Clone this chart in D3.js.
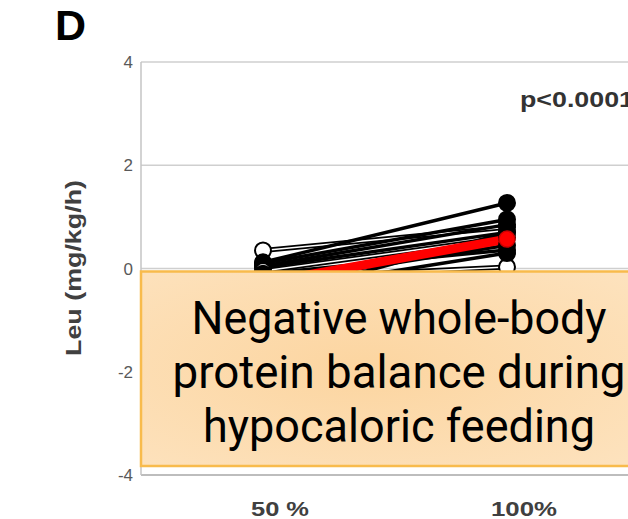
<!DOCTYPE html>
<html>
<head>
<meta charset="utf-8">
<script src="https://cdn.jsdelivr.net/npm/d3@7"></script>
<style>
  body{margin:0;background:#fff;}
  svg{display:block;}
</style>
</head>
<body>
<svg id="chart" width="628" height="519"></svg>
<script>
// categories and tick labels
var categories=['50 %','100%'];
var yTicks=[-4,-2,0,2,4];

// individual subjects, leucine balance at 50% and 100% feeding
var subj50 =[0.35,0.12,0.10,0.05,0.02,-0.05,-0.10,-0.30,-0.20,-0.60,-0.45];
var subj100=[0.80,1.27,0.95,0.85,0.70,0.60,0.36,0.45,0.03,0.70,0.30];
var subjOpen=[true,false,false,false,false,true,false,false,true,false,false];
// group mean
var mean50=-0.28;
var mean100=0.57;

var boxLines=['Negative whole-body','protein balance during','hypocaloric feeding'];
var boxWidths=[415,453,392];

var svg=d3.select('#chart');

var x=d3.scalePoint().domain(categories).range([263,507]);
var y=d3.scaleLinear().domain([-4,4]).range([475,62]);

// gridlines
svg.append('g')
  .selectAll('line')
  .data(yTicks)
  .join('line')
  .attr('x1',141).attr('x2',628)
  .attr('y1',d=>y(d)).attr('y2',d=>y(d))
  .attr('stroke',d=>d==-4?'#bdbdbd':'#cfcfcf')
  .attr('stroke-width',d=>d==-4?2:1.5);

// y axis line
svg.append('line')
  .attr('x1',141).attr('x2',141)
  .attr('y1',y(4)).attr('y2',y(-4))
  .attr('stroke','#c4c4c4').attr('stroke-width',1.5);

// tick labels
svg.append('g')
  .selectAll('text')
  .data(yTicks)
  .join('text')
  .attr('x',133)
  .attr('y',d=>y(d)+6)
  .attr('text-anchor','end')
  .attr('font-family','Liberation Sans, sans-serif')
  .attr('font-size',17)
  .attr('fill','#595959')
  .text(d=>d);

// category labels
svg.append('g')
  .selectAll('text')
  .data(categories)
  .join('text')
  .attr('x',d=>x(d)+17)
  .attr('y',516)
  .attr('text-anchor','middle')
  .attr('font-family','Liberation Sans, sans-serif')
  .attr('font-weight','bold')
  .attr('font-size',21)
  .attr('textLength',(d,i)=>i==0?58:66)
  .attr('lengthAdjust','spacingAndGlyphs')
  .attr('fill','#404040')
  .text(d=>d);

// y axis title
svg.append('text')
  .attr('transform','translate(81,268) rotate(-90)')
  .attr('text-anchor','middle')
  .attr('font-family','Liberation Sans, sans-serif')
  .attr('font-weight','bold')
  .attr('font-size',22)
  .attr('textLength',176)
  .attr('lengthAdjust','spacingAndGlyphs')
  .attr('fill','#404040')
  .text('Leu (mg/kg/h)');

// panel letter
svg.append('text')
  .attr('x',55).attr('y',40)
  .attr('font-family','Liberation Sans, sans-serif')
  .attr('font-weight','bold')
  .attr('font-size',43)
  .attr('fill','#000')
  .text('D');

// p value
svg.append('text')
  .attr('x',520).attr('y',107)
  .attr('font-family','Liberation Sans, sans-serif')
  .attr('font-weight','bold')
  .attr('font-size',22)
  .attr('textLength',114)
  .attr('lengthAdjust','spacingAndGlyphs')
  .attr('fill','#333')
  .text('p<0.0001');

// subject lines
var subjects=subj50.map((v,i)=>({v50:v,v100:subj100[i],open:subjOpen[i]}));
var lineGen=d3.line().x(d=>x(d.cat)).y(d=>y(d.v));
var gLines=svg.append('g');
subjects.forEach(function(s){
  var pts=[{cat:categories[0],v:s.v50},{cat:categories[1],v:s.v100}];
  gLines.append('path').datum(pts)
    .attr('d',lineGen).attr('fill','none')
    .attr('stroke','#000').attr('stroke-width',s.open?5:3.5);
  if(s.open){
    gLines.append('path').datum(pts)
      .attr('d',lineGen).attr('fill','none')
      .attr('stroke','#fff').attr('stroke-width',1.5);
  }
});

// mean line
var meanPts=[{cat:categories[0],v:mean50},{cat:categories[1],v:mean100}];
svg.append('path').datum(meanPts)
  .attr('d',lineGen).attr('fill','none')
  .attr('stroke','#f00').attr('stroke-width',9);

// markers
var gDots=svg.append('g');
subjects.forEach(function(s){
  [[categories[0],s.v50],[categories[1],s.v100]].forEach(function(p){
    gDots.append('circle')
      .attr('cx',x(p[0])).attr('cy',y(p[1])).attr('r',8)
      .attr('fill',s.open?'#fff':'#000')
      .attr('stroke','#000').attr('stroke-width',2);
  });
});
svg.append('g').selectAll('circle')
  .data(meanPts)
  .join('circle')
  .attr('cx',d=>x(d.cat)).attr('cy',d=>y(d.v)).attr('r',8)
  .attr('fill','#f00').attr('stroke','#c00').attr('stroke-width',1.5);

// annotation box
var defs=svg.append('defs');
var grad=defs.append('radialGradient').attr('id','boxfill')
  .attr('cx','45%').attr('cy','50%').attr('r','70%');
grad.append('stop').attr('offset','0%').attr('stop-color','#fcd5a0');
grad.append('stop').attr('offset','100%').attr('stop-color','#fde2bd');

svg.append('rect')
  .attr('x',141).attr('y',271.5)
  .attr('width',500).attr('height',194.5)
  .attr('fill','url(#boxfill)')
  .attr('stroke','#f8bb4c').attr('stroke-width',2.5);

svg.append('g')
  .selectAll('text')
  .data(boxLines)
  .join('text')
  .attr('x',399)
  .attr('y',(d,i)=>334+i*54)
  .attr('text-anchor','middle')
  .attr('font-family','Roboto, sans-serif')
  .attr('font-size',46)
  .attr('textLength',(d,i)=>boxWidths[i])
  .attr('lengthAdjust','spacingAndGlyphs')
  .attr('fill','#000')
  .text(d=>d);
</script>
</body>
</html>
